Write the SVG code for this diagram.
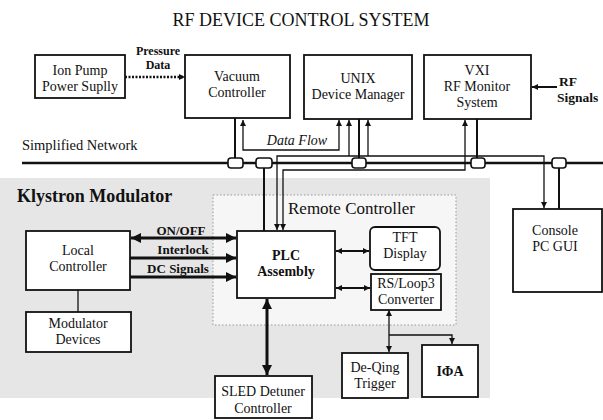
<svg xmlns="http://www.w3.org/2000/svg" width="603" height="420" viewBox="0 0 603 420">
<defs>
<style>
text{font-family:"Liberation Serif","Times New Roman",serif;fill:#111;text-anchor:middle}
.t{font-size:14px}
.b{font-weight:bold}
.box{fill:#fff;stroke:#111;stroke-width:1.8}
.ln{fill:none;stroke:#111;stroke-width:1.3}
.sl{fill:none;stroke:#111;stroke-width:2}
.th{fill:none;stroke:#111;stroke-width:3}
.cb{fill:#fff;stroke:#111;stroke-width:1.6}
</style>
<marker id="a" viewBox="0 0 10 10" refX="10" refY="5" markerWidth="6" markerHeight="7" markerUnits="userSpaceOnUse" orient="auto-start-reverse"><path d="M0,0 L10,5 L0,10 Z" fill="#111"/></marker>
<marker id="A" viewBox="0 0 10 10" refX="10" refY="5" markerWidth="11" markerHeight="10" markerUnits="userSpaceOnUse" orient="auto-start-reverse"><path d="M0,0 L10,5 L0,10 Z" fill="#111"/></marker>
</defs>
<rect width="603" height="420" fill="#fff"/>
<g id="regions">
<rect x="0" y="178" width="490" height="220" fill="#e6e6e6"/>
<rect x="213" y="195" width="243" height="130" fill="#f6f6f6" stroke="#999" stroke-width="1" stroke-dasharray="1.5,2"/>
<text x="17" y="202" style="font-size:18px;text-anchor:start" class="b">Klystron Modulator</text>
<text x="288" y="214" style="font-size:17px;text-anchor:start">Remote Controller</text>
</g>
<text x="301" y="26" style="font-size:18px">RF DEVICE CONTROL SYSTEM</text>
<text x="22" y="150" style="font-size:14.5px;text-anchor:start">Simplified Network</text>
<g id="connectors">
<line class="th" x1="22" y1="163" x2="603" y2="163" style="stroke-width:2.5"/>
<line class="th" x1="125" y1="77" x2="185" y2="77" style="stroke-width:2.5;stroke-dasharray:2,1.5" marker-end="url(#a)"/>
<line class="sl" x1="557" y1="87" x2="532" y2="87" marker-end="url(#a)"/>
<line class="sl" x1="235" y1="118" x2="235" y2="160"/>
<line class="sl" x1="359" y1="119" x2="359" y2="160"/>
<line class="sl" x1="477" y1="119" x2="477" y2="160"/>
<line class="sl" x1="264" y1="166" x2="264" y2="231"/>
<line class="sl" x1="559" y1="166" x2="559" y2="209"/>
<path class="ln" d="M243,120 V150 H339 V120" marker-start="url(#a)" marker-end="url(#a)"/>
<path class="ln" d="M277,230 V156 H544 V208" marker-start="url(#a)" marker-end="url(#a)"/>
<path class="ln" d="M349,156 V120" marker-end="url(#a)"/>
<path class="ln" d="M368,156 V120" marker-end="url(#a)"/>
<path class="ln" d="M283,230 V170 H465 V120" marker-start="url(#a)" marker-end="url(#a)"/>
<line class="th" x1="131" y1="238" x2="236" y2="238" marker-start="url(#A)" marker-end="url(#A)"/>
<line class="th" x1="130" y1="258" x2="236" y2="258" marker-end="url(#A)"/>
<line class="th" x1="130" y1="277" x2="236" y2="277" marker-end="url(#A)"/>
<line class="th" x1="267" y1="299" x2="267" y2="375" marker-start="url(#A)" marker-end="url(#A)"/>
<line class="sl" x1="336" y1="251" x2="369" y2="251" marker-start="url(#a)" marker-end="url(#a)"/>
<line class="sl" x1="336" y1="288" x2="370" y2="288" marker-start="url(#a)" marker-end="url(#a)"/>
<line class="ln" x1="78" y1="290" x2="78" y2="312"/>
<path class="ln" d="M389,310 V352" marker-start="url(#a)" marker-end="url(#a)"/>
<path class="ln" d="M389,335 H452 V344" marker-end="url(#a)"/>
<rect class="cb" x="228" y="158" width="15" height="10" rx="3"/>
<rect class="cb" x="256" y="158" width="16" height="10" rx="3"/>
<rect class="cb" x="352" y="158" width="14" height="10" rx="3"/>
<rect class="cb" x="471" y="158" width="14" height="10" rx="3"/>
<rect class="cb" x="552" y="158" width="14" height="10" rx="3"/>
</g>
<text x="158" y="55" style="font-size:12px" class="b">Pressure</text>
<text x="158" y="69" style="font-size:12px" class="b">Data</text>
<text x="297" y="145" style="font-size:14px;font-style:italic">Data Flow</text>
<text x="559" y="86" style="font-size:13.5px;text-anchor:start" class="b">RF</text>
<text x="557" y="102" style="font-size:13.5px;text-anchor:start" class="b">Signals</text>
<text x="181" y="235" style="font-size:13px" class="b">ON/OFF</text>
<text x="183" y="254" style="font-size:13px" class="b">Interlock</text>
<text x="178" y="273" style="font-size:13px" class="b">DC Signals</text>
<g id="ionpump"><rect class="box" x="35" y="55" width="90" height="43"/><text class="t" x="80" y="75">Ion Pump</text><text class="t" x="80" y="91">Power Suplly</text></g>
<g id="vacuum"><rect class="box" x="185" y="55" width="105" height="63"/><text class="t" x="237" y="81">Vacuum</text><text class="t" x="237" y="97">Controller</text></g>
<g id="unix"><rect class="box" x="304" y="55" width="108" height="64"/><text class="t" x="358" y="83">UNIX</text><text class="t" x="358" y="99">Device Manager</text></g>
<g id="vxi"><rect class="box" x="424" y="55" width="107" height="64"/><text class="t" x="477" y="75">VXI</text><text class="t" x="477" y="91">RF Monitor</text><text class="t" x="477" y="107">System</text></g>
<g id="console"><rect class="box" x="513" y="209" width="89" height="83"/><text class="t" x="555" y="235">Console</text><text class="t" x="555" y="251">PC GUI</text></g>
<g id="local"><rect class="box" x="26" y="231" width="104" height="59"/><text class="t" x="78" y="255">Local</text><text class="t" x="78" y="271">Controller</text></g>
<g id="modulator"><rect class="box" x="26" y="312" width="105" height="40"/><text class="t" x="78" y="328">Modulator</text><text class="t" x="78" y="344">Devices</text></g>
<g id="plc"><rect class="box" x="237" y="231" width="98" height="67"/><text class="t b" x="286" y="260">PLC</text><text class="t b" x="286" y="276">Assembly</text></g>
<g id="tft"><rect class="box" x="370" y="227" width="70" height="43" rx="5"/><text class="t" x="405" y="242">TFT</text><text class="t" x="405" y="258">Display</text></g>
<g id="converter"><rect class="box" x="371" y="274" width="70" height="36"/><text class="t" x="406" y="288">RS/Loop3</text><text class="t" x="406" y="304">Converter</text></g>
<g id="deqing"><rect class="box" x="342" y="353" width="66" height="45"/><text class="t" x="375" y="372">De-Qing</text><text class="t" x="375" y="388">Trigger</text></g>
<g id="ipa"><rect class="box" x="422" y="345" width="56" height="52"/><text class="t b" x="450" y="376">IΦA</text></g>
<g id="sled"><rect class="box" x="215" y="376" width="97" height="42"/><text class="t" x="263" y="396">SLED Detuner</text><text class="t" x="263" y="413">Controller</text></g>
</svg>
